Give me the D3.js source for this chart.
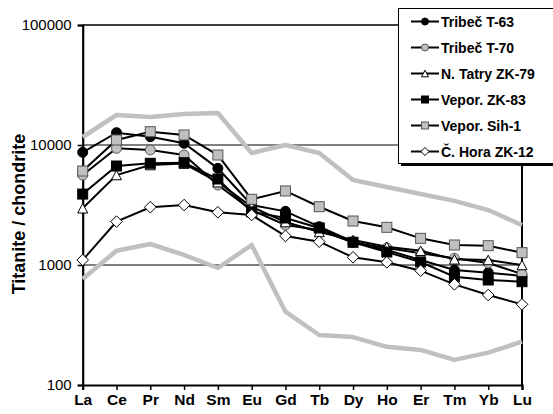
<!DOCTYPE html>
<html>
<head>
<meta charset="utf-8">
<script src="https://cdn.jsdelivr.net/npm/d3@7"></script>
<style>
  html, body { margin: 0; padding: 0; background: #fff; }
  svg { display: block; font-family: "Liberation Sans", Arial, sans-serif; }
</style>
</head>
<body>
<svg id="chart"></svg>
<script>
// REE categories and tick values
const elements = ['La','Ce','Pr','Nd','Sm','Eu','Gd','Tb','Dy','Ho','Er','Tm','Yb','Lu'];
const yTicks = [100, 1000, 10000, 100000];

// chondrite-normalised titanite values
const tribecT63 = [8690, 12670, 11730, 10330, 6390, 3160, 2800, 2085, 1564, 1334, 1101, 909, 863, 810];
const tribecT70 = [5620, 9380, 9090, 8250, 4640, 2870, 2154, 1957, 1540, 1387, 1252, 1137, 1039, 841];
const tatryZK79 = [2970, 5620, 6810, 7000, 4900, 3050, 2280, 1884, 1616, 1422, 1316, 1115, 1101, 1000];
const veporZK83 = [3900, 6680, 7040, 7120, 5210, 2770, 2465, 2035, 1546, 1283, 1059, 799, 750, 726];
const veporSih1 = [6070, 11010, 12910, 12120, 8250, 3530, 4140, 3060, 2326, 2061, 1668, 1468, 1448, 1267];
const horaZK12  = [1100, 2300, 3030, 3160, 2750, 2610, 1745, 1564, 1159, 1053, 897, 690, 562, 470];
// grey envelope lines (no legend entry)
const envelopeMax = [11660, 17780, 17110, 18130, 18480, 8580, 10000, 8580, 5110, 4470, 3910, 3420, 2870, 2150];
const envelopeMin = [764, 1316, 1496, 1212, 944, 1468, 408, 261, 251, 208, 196, 162, 186, 230];

const series = [
  { name: 'Tribeč T-63',    values: tribecT63, marker: 'circle',   fill: '#000' },
  { name: 'Tribeč T-70',    values: tribecT70, marker: 'circle',   fill: '#c0c0c0' },
  { name: 'N. Tatry ZK-79', values: tatryZK79, marker: 'triangle', fill: '#fff' },
  { name: 'Vepor. ZK-83',   values: veporZK83, marker: 'square',   fill: '#000' },
  { name: 'Vepor. Sih-1',   values: veporSih1, marker: 'square',   fill: '#c0c0c0' },
  { name: 'Č. Hora ZK-12',  values: horaZK12,  marker: 'diamond',  fill: '#fff' }
];

const width = 553, height = 414;
const plotL = 82.7, plotR = 522, plotT = 25, plotB = 385;

const svg = d3.select('#chart')
  .attr('width', width)
  .attr('height', height)
  .attr('viewBox', [0, 0, width, height]);

const x = d3.scalePoint().domain(elements).range([plotL, plotR]);
const y = d3.scaleLog().domain([100, 100000]).range([plotB, plotT]);

// gridlines at 1000 and 10000
svg.append('g')
  .selectAll('line')
  .data(yTicks.slice(1, 3))
  .enter()
  .append('line')
    .attr('x1', plotL).attr('x2', plotR)
    .attr('y1', d => y(d)).attr('y2', d => y(d))
    .attr('stroke', '#000').attr('stroke-width', 1);

// plot frame top + right
svg.append('line').attr('x1', plotL).attr('x2', plotR).attr('y1', plotT).attr('y2', plotT)
  .attr('stroke', '#000').attr('stroke-width', 1.5);
svg.append('line').attr('x1', plotR).attr('x2', plotR).attr('y1', plotT).attr('y2', plotB)
  .attr('stroke', '#000').attr('stroke-width', 2);

// axes
const yAxis = svg.append('g')
  .attr('transform', `translate(${plotL},0)`)
  .call(d3.axisLeft(y).tickValues(yTicks).tickFormat(d3.format('d')).tickSize(5).tickPadding(6));
const xAxis = svg.append('g')
  .attr('transform', `translate(0,${plotB})`)
  .call(d3.axisBottom(x).tickSize(5).tickPadding(4));

[yAxis, xAxis].forEach(a => {
  a.select('.domain').attr('stroke', '#000').attr('stroke-width', 2.2);
  a.selectAll('.tick line').attr('stroke', '#000').attr('stroke-width', 1.5);
});
yAxis.selectAll('text').attr('font-size', 15).attr('fill', '#000')
  .attr('font-family', '"Liberation Sans", Arial, sans-serif');
xAxis.selectAll('text').attr('font-size', 15.5).attr('font-weight', 'bold').attr('fill', '#000')
  .attr('font-family', '"Liberation Sans", Arial, sans-serif');

// axis title
svg.append('text')
  .attr('transform', 'translate(24.5,214) rotate(-90)')
  .attr('text-anchor', 'middle')
  .attr('font-size', 18).attr('font-weight', 'bold')
  .text('Titanite / chondrite');

const line = d3.line().x((d, i) => x(elements[i])).y(d => y(d));

// grey envelopes
[envelopeMax, envelopeMin].forEach(v => {
  svg.append('path')
    .attr('d', line(v))
    .attr('fill', 'none')
    .attr('stroke', '#c0c0c0')
    .attr('stroke-width', 4.5)
    .attr('stroke-linejoin', 'round');
});

function drawMarker(g, type, fill, s) {
  const stroke = fill === '#c0c0c0' ? '#555' : '#000';
  if (type === 'circle') {
    g.append('circle').attr('r', s / 2).attr('fill', fill).attr('stroke', stroke).attr('stroke-width', 1);
  } else if (type === 'square') {
    g.append('rect').attr('x', -s / 2).attr('y', -s / 2).attr('width', s).attr('height', s)
      .attr('fill', fill).attr('stroke', stroke).attr('stroke-width', 1);
  } else if (type === 'triangle') {
    const h = s * 0.95;
    g.append('path').attr('d', `M0,${-h / 2}L${s / 2},${h / 2}L${-s / 2},${h / 2}Z`)
      .attr('fill', fill).attr('stroke', stroke).attr('stroke-width', 1);
  } else if (type === 'diamond') {
    const r = s * 0.58;
    g.append('path').attr('d', `M0,${-r}L${r},0L0,${r}L${-r},0Z`)
      .attr('fill', fill).attr('stroke', stroke).attr('stroke-width', 1);
  }
}

series.forEach(s => {
  const g = svg.append('g');
  g.append('path')
    .attr('d', line(s.values))
    .attr('fill', 'none')
    .attr('stroke', '#000')
    .attr('stroke-width', 2);
  s.values.forEach((v, i) => {
    const m = g.append('g').attr('transform', `translate(${x(elements[i])},${y(v)})`);
    drawMarker(m, s.marker, s.fill, 10);
  });
});

// legend
const lg = svg.append('g');
lg.append('rect').attr('x', 401).attr('y', 11).attr('width', 170).attr('height', 155).attr('fill', '#000');
lg.append('rect').attr('x', 398.5).attr('y', 8.5).attr('width', 170).attr('height', 155)
  .attr('fill', '#fff').attr('stroke', '#000').attr('stroke-width', 1);

series.forEach((s, i) => {
  const cy = 21.5 + i * 26;
  const row = lg.append('g').attr('transform', `translate(0,${cy})`);
  row.append('line').attr('x1', 411).attr('x2', 439).attr('y1', 0).attr('y2', 0)
    .attr('stroke', '#000').attr('stroke-width', 2);
  const m = row.append('g').attr('transform', 'translate(425,0)');
  drawMarker(m, s.marker, s.fill, 7);
  row.append('text').attr('x', 441).attr('y', 0).attr('dy', '0.36em')
    .attr('font-size', 14).attr('font-weight', 'bold')
    .text(s.name);
});
</script>
</body>
</html>
